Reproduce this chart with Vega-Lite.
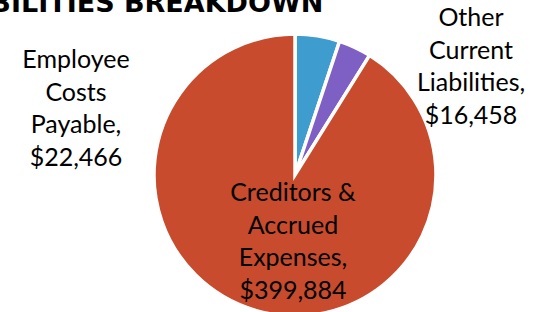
{
  "$schema": "https://vega.github.io/schema/vega-lite/v6.json",
  "width": 476,
  "height": 274,
  "autosize": {"type": "none"},
  "padding": {"left": 57, "top": 38, "right": 0, "bottom": 0},
  "background": "white",
  "view": {"stroke": null},
  "title": {
    "text": "CURRENT LIABILITIES BREAKDOWN",
    "anchor": "start",
    "align": "right",
    "dx": 301,
    "dy": 33,
    "offset": 0,
    "baseline": "alphabetic",
    "font": "DejaVu Sans",
    "fontWeight": "bold",
    "fontSize": 27,
    "color": "black"
  },
  "data": {
    "values": [
      {"category": "Employee Costs Payable", "seq": 1, "value": 22466, "label": "Employee\nCosts\nPayable,\n$22,466"},
      {"category": "Other Current Liabilities", "seq": 2, "value": 16458, "label": "Other\nCurrent\nLiabilities,\n$16,458"},
      {"category": "Creditors & Accrued Expenses", "seq": 3, "value": 399884, "label": "Creditors &\nAccrued\nExpenses,\n$399,884"}
    ]
  },
  "layer": [
    {
      "mark": {"type": "arc", "outerRadius": 141, "stroke": "white", "strokeWidth": 3.5},
      "encoding": {
        "theta": {"field": "value", "type": "quantitative", "stack": true},
        "order": {"field": "seq", "type": "quantitative", "sort": "ascending"},
        "color": {
          "field": "category",
          "type": "nominal",
          "scale": {
            "domain": ["Employee Costs Payable", "Other Current Liabilities", "Creditors & Accrued Expenses"],
            "range": ["#3E9CCE", "#7E5FC4", "#C84B2D"]
          },
          "legend": null
        }
      }
    },
    {
      "transform": [{"filter": "datum.category === 'Employee Costs Payable'"}],
      "mark": {"type": "text", "font": "Lato", "fontSize": 25, "lineHeight": 32.5, "lineBreak": "\n", "align": "center", "baseline": "middle", "dx": -219, "dy": -115, "color": "black"},
      "encoding": {"text": {"field": "label"}}
    },
    {
      "transform": [{"filter": "datum.category === 'Other Current Liabilities'"}],
      "mark": {"type": "text", "font": "Lato", "fontSize": 25, "lineHeight": 32.5, "lineBreak": "\n", "align": "center", "baseline": "middle", "dx": 176, "dy": -157, "color": "black"},
      "encoding": {"text": {"field": "label"}}
    },
    {
      "transform": [{"filter": "datum.category === 'Creditors & Accrued Expenses'"}],
      "mark": {"type": "text", "font": "Lato", "fontSize": 25, "lineHeight": 32.5, "lineBreak": "\n", "align": "center", "baseline": "middle", "dx": -2, "dy": 18, "color": "black"},
      "encoding": {"text": {"field": "label"}}
    }
  ]
}
